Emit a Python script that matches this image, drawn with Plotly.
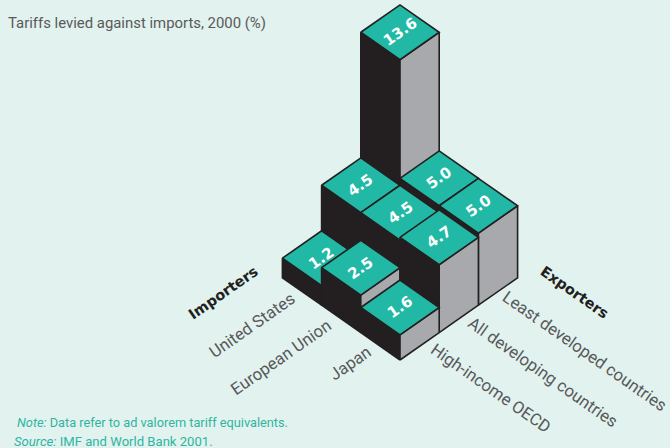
import plotly.graph_objects as go

importers = ["United States", "European Union", "Japan"]
exporters = ["High-income OECD", "All developing countries", "Least developed countries"]
tariffs_us = [1.2, 4.5, 13.6]
tariffs_eu = [2.5, 4.5, 5.0]
tariffs_japan = [1.6, 4.7, 5.0]
values = [tariffs_us, tariffs_eu, tariffs_japan]

BG = "#e2f2ee"
TEAL = "#22b8a6"
DARK = "#231f20"
GREY = "#a7a9ac"
TXT = "#58595b"
NOTE = "#2fb5a2"

# isometric projection: importer index i, exporter index j, height z -> page position
ORIGIN_X, ORIGIN_Y = 400.0, 360.0
DX, DY, DZ = 39.2, 27.4, 13.8
PLINTH = 0.22  # bars stand on a small common base, in data units


def project(i, j, z):
    """i, j are continuous grid positions; the front corner of the chart is i=3, j=0."""
    return (ORIGIN_X + (j - (3 - i)) * DX,
            ORIGIN_Y - (j + (3 - i)) * DY - z * DZ)


fig = go.Figure()


def face(points, color):
    xs, ys = zip(*[project(*p) for p in points])
    fig.add_trace(go.Scatter(
        x=list(xs) + [xs[0]], y=list(ys) + [ys[0]], mode="lines", fill="toself",
        fillcolor=color, line=dict(color=DARK, width=1.6),
        hoverinfo="skip", showlegend=False))


cells = sorted(((i, j) for i in range(3) for j in range(3)), key=lambda c: c[0] - c[1])
annotations = []
for i, j in cells:
    h = values[i][j] + PLINTH
    face([(i + 1, j, 0), (i, j, 0), (i, j, h), (i + 1, j, h)], DARK)
    face([(i + 1, j, 0), (i + 1, j + 1, 0), (i + 1, j + 1, h), (i + 1, j, h)], GREY)
    face([(i, j, h), (i + 1, j, h), (i + 1, j + 1, h), (i, j + 1, h)], TEAL)
    cx, cy = project(i + 0.5, j + 0.5, h)
    annotations.append(dict(x=cx, y=cy, text=f"<b>{values[i][j]:.1f}</b>", textangle=-35, showarrow=False,
                            xanchor="center", yanchor="middle",
                            font=dict(family="DejaVu Sans", size=15, color="white")))


def label(x, y, text, angle, size=16.8, family="Roboto", color=TXT):
    annotations.append(dict(x=x, y=y, text=text, textangle=angle, showarrow=False,
                            xanchor="center", yanchor="middle",
                            font=dict(family=family, size=size, color=color)))


label(223, 293, "<b>Importers</b>", -35, 14.5, "DejaVu Sans", DARK)
label(574, 292, "<b>Exporters</b>", 35, 14.5, "DejaVu Sans", DARK)
for (x, y), t in zip([(252, 325), (281, 357), (350, 363)], importers):
    label(x, y, t, -35)
for (x, y), t in zip([(491, 388), (543, 372), (585, 351)], exporters):
    label(x, y, t, 35)


def flat(x, y, text, color, size=13):
    annotations.append(dict(x=x, y=y, text=text, showarrow=False, xanchor="left", yanchor="middle",
                            font=dict(family="Roboto", size=size, color=color)))


flat(6, 23, "Tariffs levied against imports, 2000 (%)", TXT, 14.9)
flat(15, 422, "<i>Note:</i> Data refer to ad valorem tariff equivalents.", NOTE, 12.75)
flat(12, 441, "<i>Source:</i> IMF and World Bank 2001.", NOTE, 13.1)

fig.update_layout(
    width=670, height=448, margin=dict(l=0, r=0, t=0, b=0),
    paper_bgcolor=BG, plot_bgcolor=BG, showlegend=False, annotations=annotations,
    xaxis=dict(range=[0, 670], visible=False, fixedrange=True),
    yaxis=dict(range=[448, 0], visible=False, fixedrange=True),
)
fig.write_html("out.html", config=dict(displayModeBar=False),
               post_script="document.body.style.margin='0';document.body.style.background='#e2f2ee';")
